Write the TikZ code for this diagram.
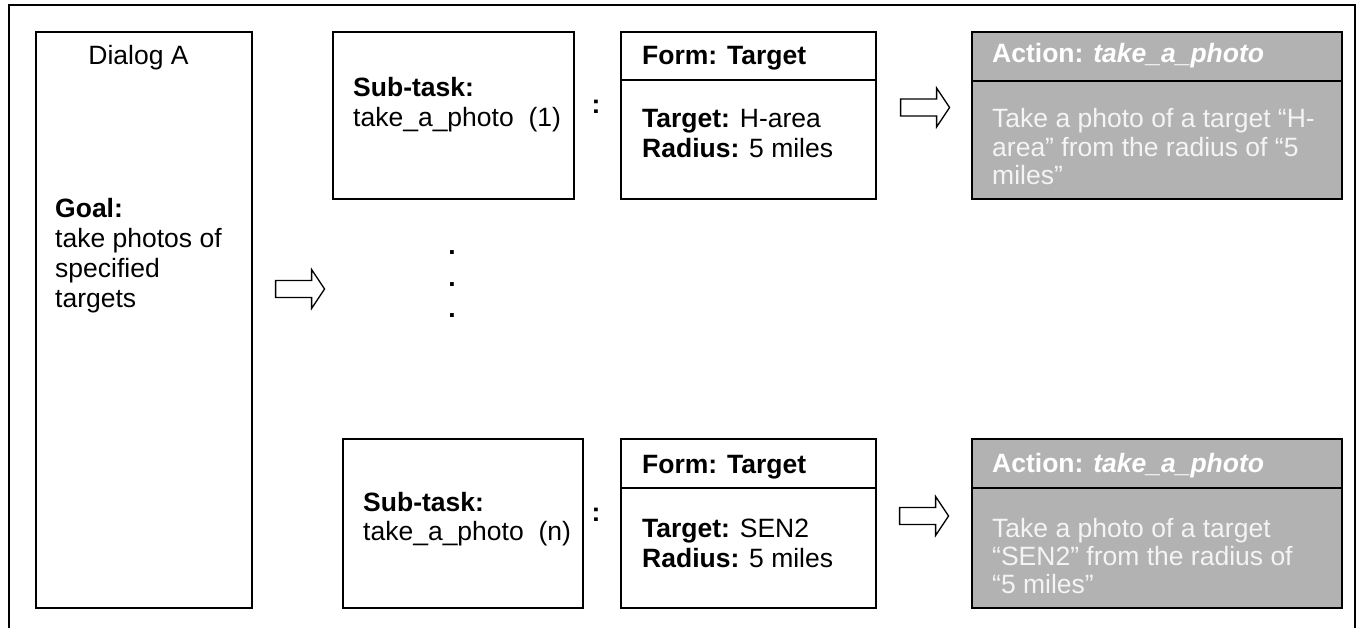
\documentclass[tikz,border=0pt]{standalone}
\usepackage{fontspec}
\setmainfont{Liberation Sans}
\definecolor{actgray}{RGB}{178,178,178}
\definecolor{acttext}{RGB}{244,244,244}
\begin{document}
\begin{tikzpicture}[x=1pt,y=-1pt,
  box/.style={draw=black, line width=1.6pt, fill=white, anchor=north west,
    inner sep=0pt, rectangle},
  actbox/.style={box, fill=actgray},
  txt/.style={anchor=base west, inner sep=0pt, font=\fontsize{26.5}{29.5}\selectfont},
  acttxt/.style={txt, text=acttext},
  acttitle/.style={txt, text=white},
  sep/.style={line width=1.6pt},
  pics/fatarrow/.style={code={
    \draw[line width=1.3pt, fill=white, line join=miter]
      (0,-8.5) -- (36,-8.5) -- (36,-19.5) -- (49,0) -- (36,19.5) -- (36,8.5)
      -- (0,8.5) -- cycle;}}]
\useasboundingbox (0,0) rectangle (1360,628);

% outer frame, open at the bottom edge
\draw[line width=1.8pt] (9,628) -- (9,5) -- (1355,5) -- (1355,628);

% dialog box
\node[box, minimum width=216pt, minimum height=576pt] (dlg) at (35,31) {};
\node[txt, anchor=base] (dlgname) at (138.5,65) {Dialog A};
\node[txt] (goal1) at (55,218) {\textbf{Goal:}};
\node[txt] (goal2) at (55,248) {take photos of};
\node[txt] (goal3) at (55,278) {specified};
\node[txt] (goal4) at (55,308) {targets};

% first sub-task row
\node[box, minimum width=241pt, minimum height=167pt] (sub1) at (332,31) {};
\node[txt] (sub1a) at (353,97) {\textbf{Sub-task:}};
\node[txt] (sub1b) at (353,127) {take\_a\_photo\ \ (1)};
\node[txt, anchor=base] (col1) at (596,114) {\textbf{:}};

\node[box, minimum width=255pt, minimum height=167pt] (form1) at (620,31) {};
\draw[sep] (form1.west |- 0,80) -- (form1.east |- 0,80);
\node[txt] (form1a) at (642,65) {\textbf{Form: Target}};
\node[txt] (form1b) at (642,128) {\textbf{Target:} H-area};
\node[txt] (form1c) at (642,158) {\textbf{Radius:} 5 miles};

\node[actbox, minimum width=370pt, minimum height=167pt] (act1) at (971,31) {};
\draw[sep] (act1.west |- 0,81) -- (act1.east |- 0,81);
\node[acttitle] (act1a) at (992,63) {\textbf{Action: \textit{take\_a\_photo}}};
\node[acttxt] (act1b) at (992,128) {Take a photo of a target “H-};
\node[acttxt] (act1c) at (992,157) {area” from the radius of “5};
\node[acttxt] (act1d) at (992,185) {miles”};

% ellipsis between the rows
\node[txt, anchor=base] (dot1) at (452,255) {\textbf{.}};
\node[txt, anchor=base] (dot2) at (452,287) {\textbf{.}};
\node[txt, anchor=base] (dot3) at (452,317) {\textbf{.}};

% last sub-task row
\node[box, minimum width=240pt, minimum height=169pt] (subn) at (342,438) {};
\node[txt] (subna) at (363,511) {\textbf{Sub-task:}};
\node[txt] (subnb) at (363,540) {take\_a\_photo\ \ (n)};
\node[txt, anchor=base] (coln) at (596,521) {\textbf{:}};

\node[box, minimum width=255pt, minimum height=169pt] (formn) at (620,438) {};
\draw[sep] (formn.west |- 0,488) -- (formn.east |- 0,488);
\node[txt] (formna) at (642,473) {\textbf{Form: Target}};
\node[txt] (formnb) at (642,537) {\textbf{Target:} SEN2};
\node[txt] (formnc) at (642,567) {\textbf{Radius:} 5 miles};

\node[actbox, minimum width=370pt, minimum height=169pt] (actn) at (971,438) {};
\draw[sep] (actn.west |- 0,488) -- (actn.east |- 0,488);
\node[acttitle] (actna) at (992,472) {\textbf{Action: \textit{take\_a\_photo}}};
\node[acttxt] (actnb) at (992,537) {Take a photo of a target};
\node[acttxt] (actnc) at (992,565) {“SEN2” from the radius of};
\node[acttxt] (actnd) at (992,593) {“5 miles”};

% block arrows
\coordinate (arrA) at ([xshift=23pt] dlg.east |- 0,289);
\coordinate (arrB) at ([xshift=24pt] form1.east |- 0,107.5);
\coordinate (arrC) at ([xshift=23pt] formn.east |- 0,516);
\pic (fatA) at (arrA) {fatarrow};
\pic (fatB) at (arrB) {fatarrow};
\pic (fatC) at (arrC) {fatarrow};
\end{tikzpicture}
\end{document}
